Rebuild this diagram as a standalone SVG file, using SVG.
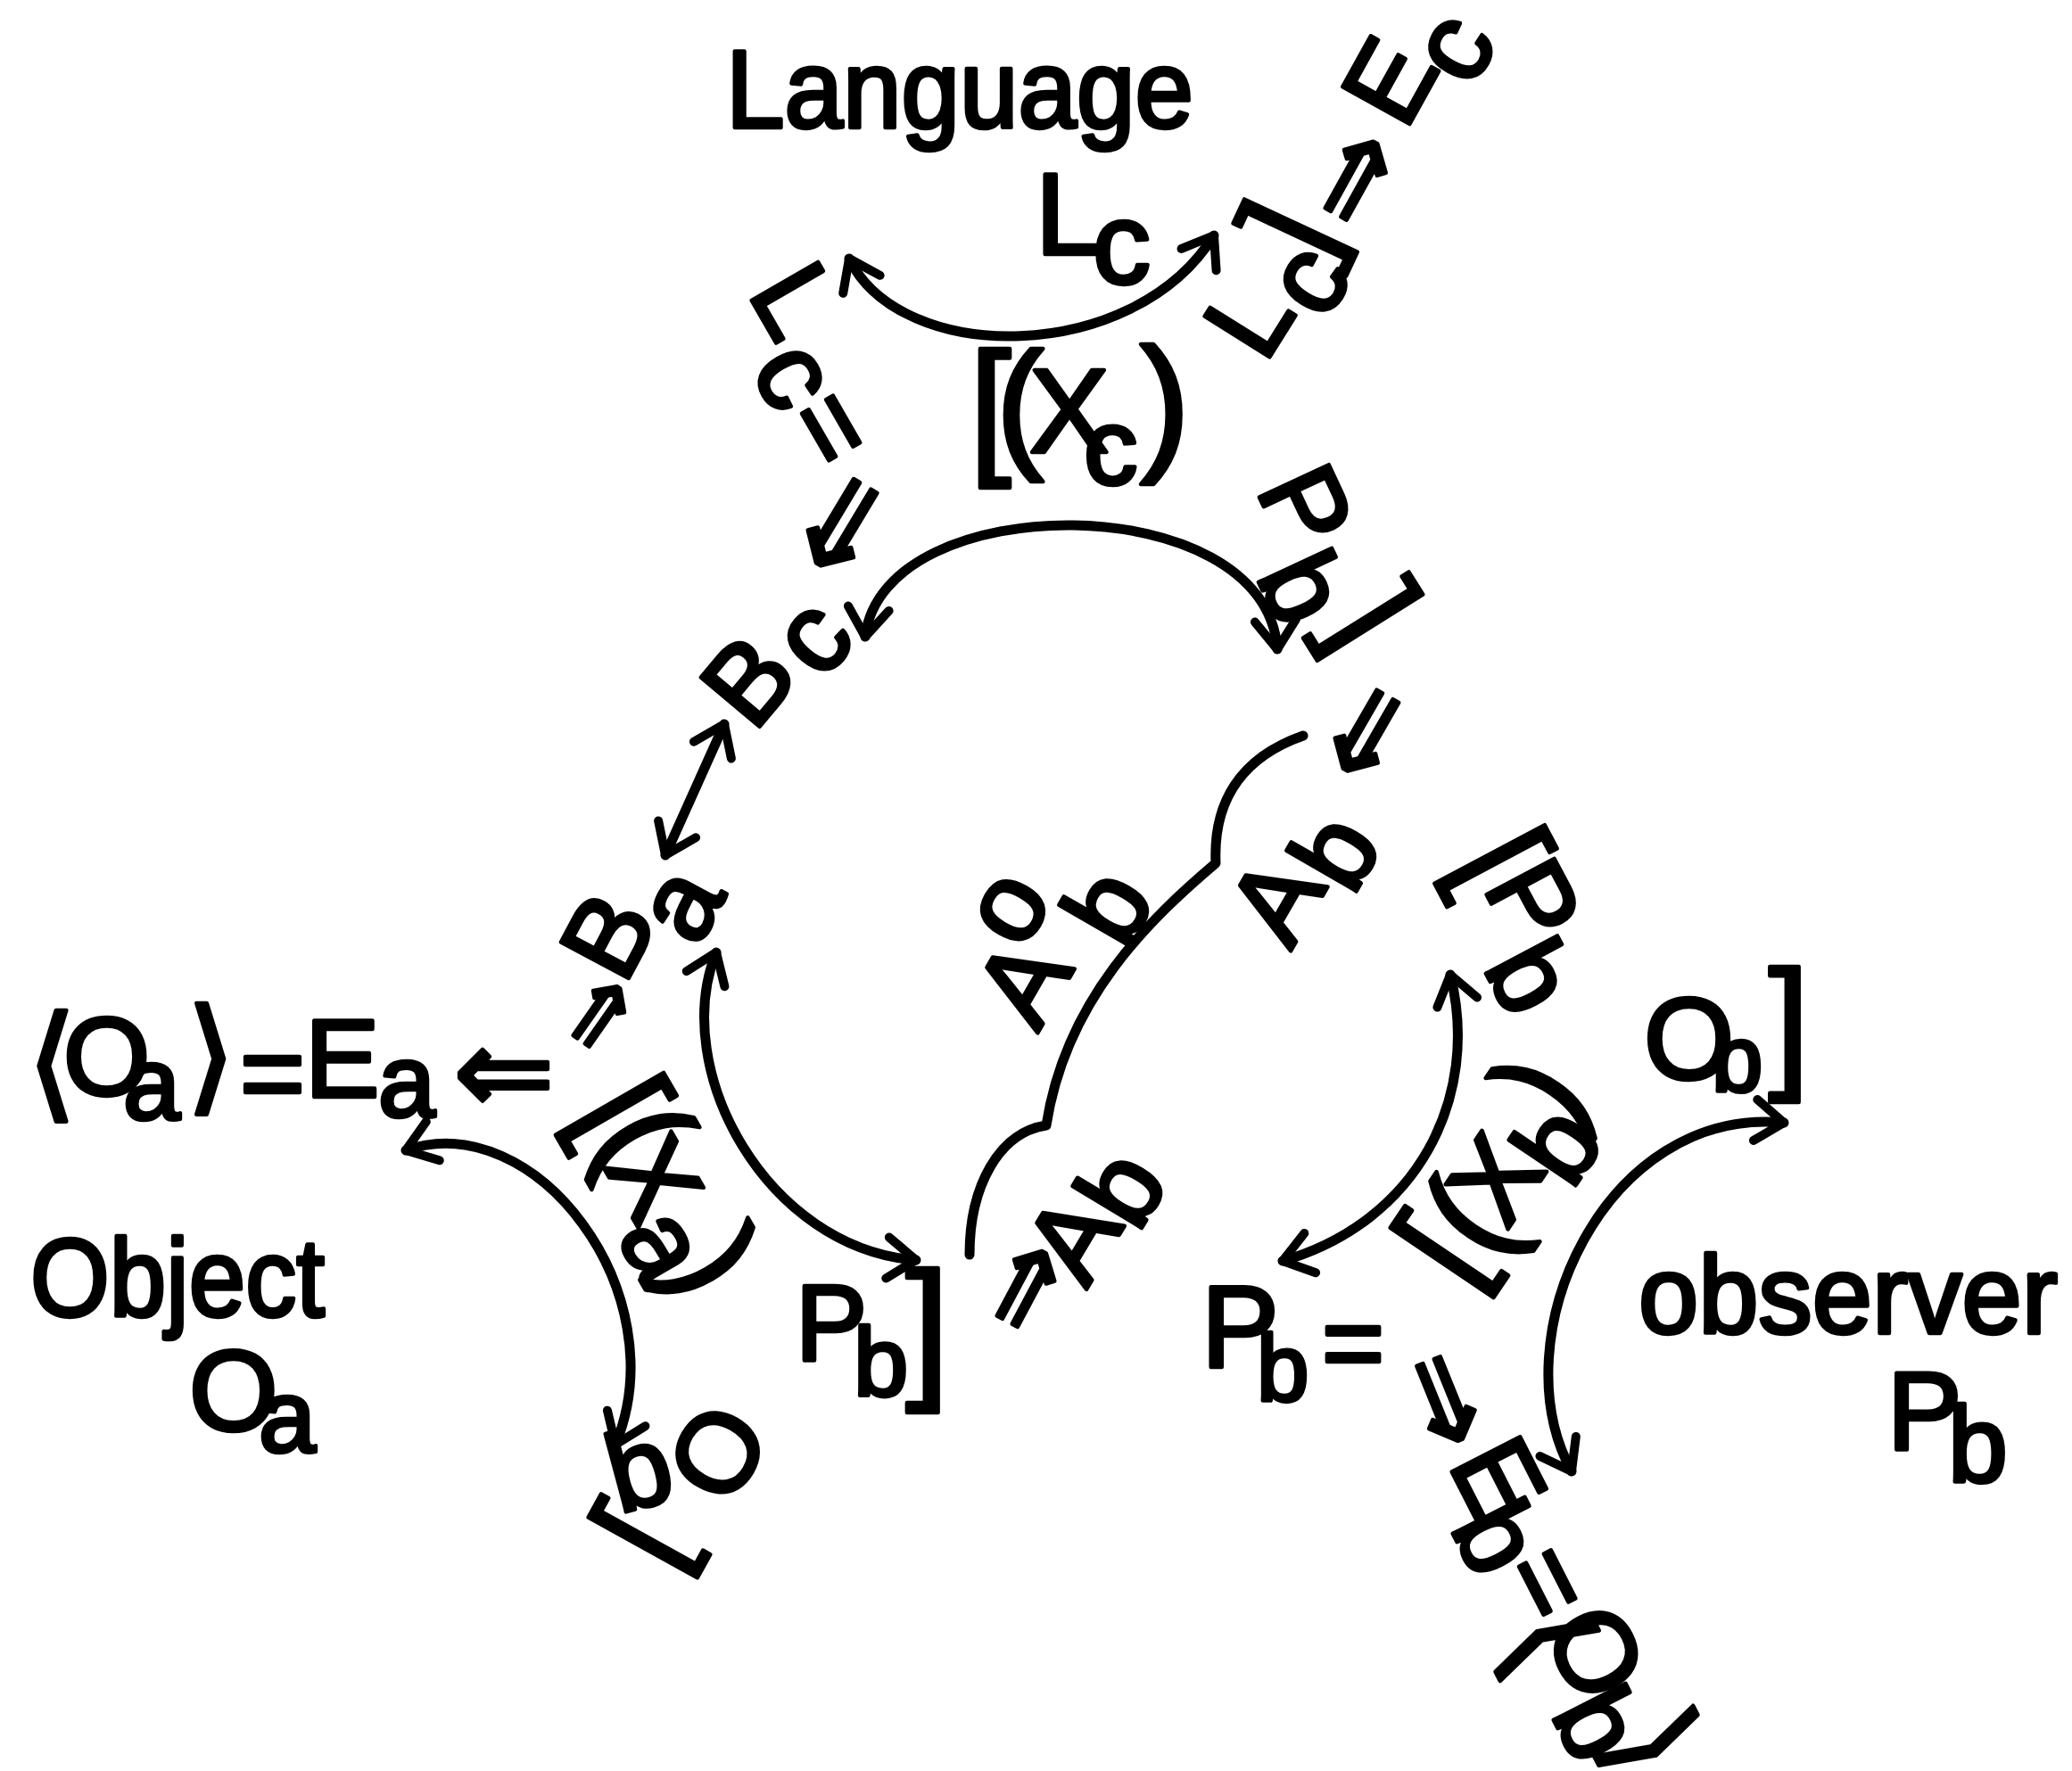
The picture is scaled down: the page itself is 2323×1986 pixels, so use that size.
<svg xmlns="http://www.w3.org/2000/svg" width="2323" height="1986" viewBox="0 0 2323 1986">
<defs>
<style>
.t{font-family:"Liberation Sans",Arial,"DejaVu Sans",sans-serif;font-size:125px;fill:#000;stroke:#000;stroke-width:4.5px;stroke-linejoin:round}
.dv{font-family:"DejaVu Sans",sans-serif}
.c{fill:none;stroke:#000;stroke-width:11;stroke-linecap:round;stroke-linejoin:round}
.ah{fill:none;stroke:#000;stroke-width:10;stroke-linecap:round;stroke-linejoin:round}
</style>
<marker id="arr" markerUnits="userSpaceOnUse" viewBox="-50 -40 60 80" markerWidth="60" markerHeight="80" refX="0" refY="0" orient="auto-start-reverse" overflow="visible">
<path class="ah" d="M -32 -23 L 0 0 L -32 23"/>
</marker>
</defs>
<rect x="0" y="0" width="2323" height="1986" fill="#fff"/>

<g id="connectors">
<path class="c" d="M 952 290 C 1010 410, 1270 410, 1361 264" marker-start="url(#arr)" marker-end="url(#arr)"/>
<path class="c" d="M 970 714 C 990 545, 1420 545, 1432 728" marker-start="url(#arr)" marker-end="url(#arr)"/>
<path class="c" d="M 746 959 L 812 812" marker-start="url(#arr)" marker-end="url(#arr)"/>
<path class="c" d="M 803 1068 C 750 1200, 860 1400, 1027 1413" marker-start="url(#arr)" marker-end="url(#arr)"/>
<path class="c" d="M 455 1290 C 600 1240, 760 1450, 690 1620" marker-start="url(#arr)" marker-end="url(#arr)"/>
<path class="c" d="M 1461 825 C 1390 850, 1360 900, 1363 968 C 1290 1030, 1195 1120, 1173 1262 C 1120 1270, 1087 1330, 1087 1407"/>
<path class="c" d="M 1626 1093 C 1660 1230, 1590 1370, 1438 1414" marker-start="url(#arr)" marker-end="url(#arr)"/>
<path class="c" d="M 2000 1259 C 1800 1240, 1680 1500, 1762 1650" marker-start="url(#arr)" marker-end="url(#arr)"/>
</g>

<g id="node-language">
<text class="t" x="814" y="143" font-size="128" textLength="524" lengthAdjust="spacingAndGlyphs">Language</text>
<text class="t"><tspan x="1161" y="285" font-size="130">L</tspan><tspan x="1225" y="318" font-size="130">c</tspan></text>
</g>

<g id="label-Xc">
<text class="t"><tspan x="1087" y="512" font-size="167">[</tspan><tspan x="1117" y="507" font-size="160">(</tspan><tspan x="1154" y="507" font-size="134">X</tspan><tspan x="1215" y="543" font-size="121">c</tspan><tspan x="1278" y="508" font-size="168">)</tspan></text>
</g>

<g id="label-Lc-Ec">
<text class="t" font-size="112"><tspan x="1418" y="409" rotate="-58">L</tspan><tspan x="1485" y="362" rotate="-58">c</tspan><tspan x="1480.5" y="297.4" rotate="-65" font-size="150">]</tspan><tspan class="dv" x="1528.6" y="265.3" rotate="-61" font-size="125">⇒</tspan><tspan x="1575.6" y="147.9" rotate="-61">E</tspan><tspan x="1649.9" y="100.6" rotate="-61">c</tspan></text>
</g>

<g id="label-Lc-eq">
<text class="t"><tspan x="837.4" y="328" rotate="60">L</tspan><tspan x="840.3" y="414.2" rotate="60">c</tspan><tspan x="877.8" y="468.9" rotate="60">=</tspan><tspan class="dv" x="936.8" y="515.6" rotate="121" font-size="140">⇒</tspan></text>
</g>

<g id="label-Bc">
<text class="t"><tspan x="845" y="822.8" rotate="-50">B</tspan><tspan x="922" y="764.8" rotate="-50">c</tspan></text>
</g>

<g id="label-Pb-upper">
<text class="t"><tspan x="1407.6" y="548.2" rotate="65">P</tspan><tspan x="1407.5" y="645.5" rotate="65">b</tspan><tspan x="1486.8" y="698" rotate="58" font-size="150">]</tspan><tspan class="dv" x="1524.2" y="754" rotate="120" font-size="130">⇒</tspan></text>
</g>

<g id="label-Ab-upper">
<text class="t"><tspan x="1447.1" y="1066.6" rotate="-60">A</tspan><tspan x="1516.6" y="1006.6" rotate="-60">b</tspan></text>
</g>

<g id="label-Aob">
<text class="t"><tspan x="1163.2" y="1158.6" rotate="-60">A</tspan><tspan x="1146.7" y="1067.4" rotate="-60">o</tspan><tspan x="1261.6" y="1067.6" rotate="-60">b</tspan></text>
</g>

<g id="label-Ab-lower">
<text class="t"><tspan class="dv" x="1159.3" y="1505.4" rotate="-62" font-size="120">⇒</tspan><tspan x="1218.1" y="1445.9" rotate="-59">A</tspan><tspan x="1275.7" y="1384" rotate="-59">b</tspan></text>
</g>

<g id="label-Ba">
<text class="t"><tspan class="dv" x="674.1" y="1190.1" rotate="-55" font-size="100">⇒</tspan><tspan x="700.1" y="1105.9" rotate="-62">B</tspan><tspan x="782.4" y="1063.9" rotate="-62">a</tspan></text>
</g>

<g id="label-Oa-Ea">
<text class="t"><tspan class="dv" x="31" y="1239" font-size="140">⟨</tspan><tspan x="71" y="1228">O</tspan><tspan x="138" y="1255" font-size="115">a</tspan><tspan class="dv" x="209" y="1231" font-size="140">⟩</tspan><tspan x="269" y="1246">=</tspan><tspan x="342" y="1230">E</tspan><tspan x="424" y="1252" font-size="115">a</tspan><tspan class="dv" x="508.4" y="1248" font-size="135">⇐</tspan></text>
</g>

<g id="label-Xa">
<text class="t"><tspan x="644.6" y="1248" rotate="60" font-size="150">[</tspan><tspan x="665.7" y="1276" rotate="60" font-size="150">(</tspan><tspan x="675.2" y="1307" rotate="60">X</tspan><tspan x="690.5" y="1387" rotate="60">a</tspan><tspan x="743.7" y="1419" rotate="60" font-size="150">)</tspan></text>
</g>

<g id="node-object">
<text class="t" x="34" y="1476" font-size="128" textLength="330" lengthAdjust="spacingAndGlyphs">Object</text>
<text class="t"><tspan x="212" y="1604" font-size="128">O</tspan><tspan x="290" y="1628" font-size="115">a</tspan></text>
</g>

<g id="label-bO">
<text class="t"><tspan x="749.6" y="1763.6" rotate="-61" font-size="150">[</tspan><tspan x="694.1" y="1697.5" rotate="-15">b</tspan><tspan x="817.7" y="1692.6" rotate="-60">O</tspan></text>
</g>

<g id="label-Pb-lower">
<text class="t"><tspan x="892" y="1525" font-size="120">P</tspan><tspan x="957" y="1565" font-size="110">b</tspan><tspan x="1015.5" y="1548" font-size="175">]</tspan></text>
</g>

<g id="label-Pb-eq">
<text class="t"><tspan x="1347" y="1533" font-size="130">P</tspan><tspan x="1409" y="1571" font-size="105">b</tspan><tspan x="1482" y="1547" font-size="120">=</tspan><tspan class="dv" x="1561" y="1535.1" rotate="68" font-size="130">⇒</tspan></text>
</g>

<g id="label-Eb">
<text class="t"><tspan x="1623" y="1641.2" rotate="63">E</tspan><tspan x="1625.1" y="1712.4" rotate="63">b</tspan><tspan x="1681.5" y="1760.8" rotate="63">=</tspan><tspan class="dv" x="1678.5" y="1837.9" rotate="63" font-size="140">⟨</tspan><tspan x="1728.8" y="1829.1" rotate="63">O</tspan><tspan x="1738.1" y="1921.4" rotate="63">b</tspan><tspan class="dv" x="1798.5" y="1950.9" rotate="63" font-size="140">⟩</tspan></text>
</g>

<g id="label-Pb-bracket">
<text class="t"><tspan x="1630.8" y="966.8" rotate="62" font-size="150">[</tspan><tspan x="1661.7" y="994.3" rotate="62">P</tspan><tspan x="1662" y="1084.4" rotate="62">b</tspan></text>
</g>

<g id="label-Xb">
<text class="t"><tspan x="1642.8" y="1446.4" rotate="-56" font-size="150">[</tspan><tspan x="1673.3" y="1415.5" rotate="-56" font-size="150">(</tspan><tspan x="1689" y="1380.8" rotate="-56">X</tspan><tspan x="1761.9" y="1336" rotate="-56">b</tspan><tspan x="1755.3" y="1270.5" rotate="-56" font-size="150">)</tspan></text>
</g>

<g id="label-Ob">
<text class="t"><tspan x="1843" y="1210" font-size="130">O</tspan><tspan x="1919" y="1223" font-size="103">b</tspan><tspan x="1983" y="1202" font-size="163">]</tspan></text>
</g>

<g id="node-observer">
<text class="t" x="1837" y="1495" font-size="120" textLength="470" lengthAdjust="spacingAndGlyphs">observer</text>
<text class="t"><tspan x="2116" y="1625" font-size="125">P</tspan><tspan x="2184" y="1661" font-size="120">b</tspan></text>
</g>
</svg>
